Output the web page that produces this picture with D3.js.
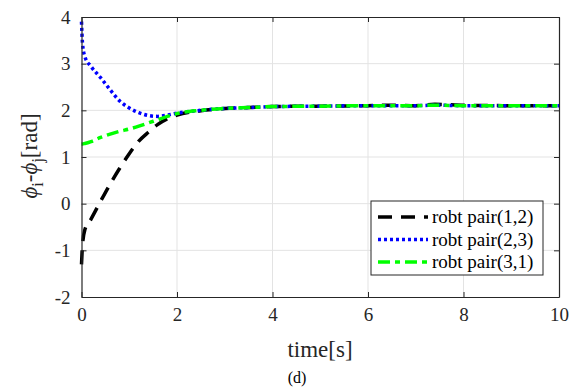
<!DOCTYPE html>
<html lang="en">
<head>
    <meta charset="UTF-8">
    <title>Phase difference</title>
    <script src="https://d3js.org/d3.v7.min.js"></script>
    <style>
        body {
            margin: 0;
            background: #ffffff;
        }
    </style>
</head>
<body>
    <div id="chart"></div>

    <script>
        const width = 582, height = 388;
        const serif = "'Times New Roman', 'Liberation Serif', Tinos, serif";

        // time samples and series values
        const timeVals = [0, 0.02, 0.07, 0.2, 0.4, 0.6, 0.8, 1.0, 1.2, 1.4, 1.6, 1.8, 2.0, 2.5, 3, 3.5, 4, 5, 6, 6.5, 7, 7.4, 8, 9, 10];
        const pair12 = [-1.3, -0.9, -0.56, -0.33, 0.05, 0.42, 0.76, 1.07, 1.34, 1.53, 1.7, 1.82, 1.9, 1.99, 2.04, 2.06, 2.08, 2.09, 2.1, 2.11, 2.1, 2.13, 2.11, 2.1, 2.1];
        const pair23 = [3.9, 3.45, 3.15, 2.94, 2.7, 2.44, 2.2, 2.05, 1.95, 1.89, 1.87, 1.9, 1.94, 2.0, 2.04, 2.06, 2.08, 2.09, 2.1, 2.1, 2.1, 2.11, 2.1, 2.1, 2.1];
        const pair31 = [1.28, 1.28, 1.29, 1.33, 1.42, 1.49, 1.55, 1.6, 1.66, 1.73, 1.8, 1.87, 1.93, 2.0, 2.04, 2.06, 2.08, 2.09, 2.1, 2.1, 2.1, 2.11, 2.1, 2.1, 2.1];

        const seriesNames = ["robt pair(1,2)", "robt pair(2,3)", "robt pair(3,1)"];
        const xTicks = [0, 2, 4, 6, 8, 10];
        const yTicks = [-2, -1, 0, 1, 2, 3, 4];

        const styles = [
            { color: "#000000", dash: "14,9", w: 3.5 },
            { color: "#0000ff", dash: "3,3", w: 3.5 },
            { color: "#00ff00", dash: "12,5,5,5", w: 3.5 }
        ];

        const margin = { left: 81.5, right: 23, top: 17, bottom: 91 };

        const svg = d3.select("#chart")
            .append("svg")
            .attr("width", width)
            .attr("height", height)
            .style("font-family", serif);

        const x = d3.scaleLinear().domain([0, 10]).range([margin.left, width - margin.right]);
        const y = d3.scaleLinear().domain([-2, 4]).range([height - margin.bottom, margin.top]);

        // grid
        svg.append("g").selectAll("line")
            .data(xTicks.slice(1, -1))
            .join("line")
            .attr("x1", d => x(d)).attr("x2", d => x(d))
            .attr("y1", y(-2)).attr("y2", y(4))
            .attr("stroke", "#e3e3e3").attr("stroke-width", 1);
        svg.append("g").selectAll("line")
            .data(yTicks.slice(1, -1))
            .join("line")
            .attr("x1", x(0)).attr("x2", x(10))
            .attr("y1", d => y(d)).attr("y2", d => y(d))
            .attr("stroke", "#e3e3e3").attr("stroke-width", 1);

        // series
        const allSeries = [pair12, pair23, pair31];
        const line = d3.line()
            .x((d, i) => x(timeVals[i]))
            .y(d => y(d))
            .curve(d3.curveMonotoneX);

        allSeries.forEach((s, k) => {
            svg.append("path")
                .datum(s)
                .attr("d", line)
                .attr("fill", "none")
                .attr("stroke", styles[k].color)
                .attr("stroke-width", styles[k].w)
                .attr("stroke-dasharray", styles[k].dash);
        });

        // axes (box with inward ticks)
        const axisColor = "#262626";
        const fmt = d => String(d);
        const xBottom = d3.axisBottom(x).tickValues(xTicks).tickFormat(fmt).tickSizeInner(-5).tickSizeOuter(0).tickPadding(11);
        const yLeft = d3.axisLeft(y).tickValues(yTicks).tickFormat(fmt).tickSizeInner(-5).tickSizeOuter(0).tickPadding(11);

        const gx = svg.append("g").attr("transform", `translate(0,${y(-2)})`).call(xBottom);
        const gy = svg.append("g").attr("transform", `translate(${x(0)},0)`).call(yLeft);
        const gxt = svg.append("g").attr("transform", `translate(0,${y(4)})`)
            .call(d3.axisTop(x).tickValues(xTicks).tickSizeInner(-5).tickSizeOuter(0).tickFormat(""));
        const gyr = svg.append("g").attr("transform", `translate(${x(10)},0)`)
            .call(d3.axisRight(y).tickValues(yTicks).tickSizeInner(-5).tickSizeOuter(0).tickFormat(""));

        [gx, gy, gxt, gyr].forEach(g => {
            g.attr("font-family", null).attr("font-size", null);
            g.select(".domain").attr("stroke", axisColor).attr("stroke-width", 1.2);
            g.selectAll(".tick line").attr("stroke", axisColor);
            g.selectAll("text")
                .style("font-family", serif)
                .style("font-size", "19px")
                .attr("fill", axisColor);
        });

        // axis labels
        svg.append("text")
            .attr("x", 320)
            .attr("y", 357)
            .attr("text-anchor", "middle")
            .style("font-size", "23px")
            .attr("fill", "#262626")
            .text("time[s]");

        svg.append("text")
            .attr("x", 297)
            .attr("y", 383)
            .attr("text-anchor", "middle")
            .style("font-size", "16px")
            .attr("fill", "#000")
            .text("(d)");

        const ylab = svg.append("text")
            .attr("transform", "translate(37,156) rotate(-90)")
            .attr("text-anchor", "middle")
            .attr("fill", "#262626")
            .style("font-size", "23px");
        ylab.append("tspan").style("font-style", "italic").text("\u03d5");
        ylab.append("tspan").attr("dy", 6).style("font-size", "16px").text("i");
        ylab.append("tspan").attr("dy", -6).text("-");
        ylab.append("tspan").style("font-style", "italic").text("\u03d5");
        ylab.append("tspan").attr("dy", 6).style("font-size", "16px").text("j");
        ylab.append("tspan").attr("dy", -6).text("[rad]");

        // legend
        const lg = svg.append("g");
        lg.append("rect")
            .attr("x", 371).attr("y", 201)
            .attr("width", 172).attr("height", 74)
            .attr("fill", "#ffffff")
            .attr("stroke", axisColor)
            .attr("stroke-width", 1);

        seriesNames.forEach((name, k) => {
            const ry = 217 + k * 22.5;
            lg.append("line")
                .attr("x1", 378).attr("x2", 428)
                .attr("y1", ry).attr("y2", ry)
                .attr("stroke", styles[k].color)
                .attr("stroke-width", styles[k].w)
                .attr("stroke-dasharray", styles[k].dash);
            lg.append("text")
                .attr("x", 432)
                .attr("y", ry + 6)
                .style("font-size", "19px")
                .attr("fill", "#000")
                .text(name);
        });
    </script>
</body>
</html>
